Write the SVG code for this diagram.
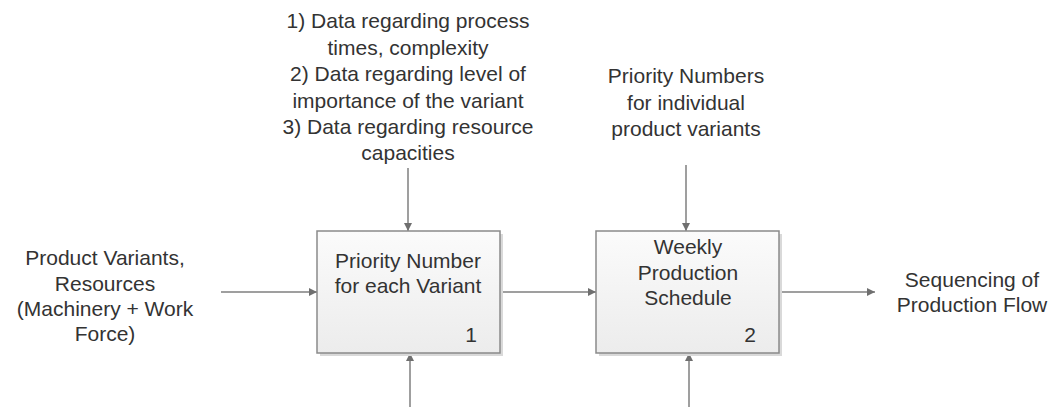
<svg xmlns="http://www.w3.org/2000/svg" width="1050" height="407" viewBox="0 0 1050 407">
  <style>
    text { font-family: "Liberation Sans", Arial, sans-serif; font-size: 21px; fill: #333333; text-anchor: middle; }
    .box { fill: url(#boxFill); stroke: #8a8a8a; stroke-width: 1.5; }
    .shadow { fill: #d9d9d9; }
    .link { stroke: #7f7f7f; stroke-width: 1.5; fill: none; marker-end: url(#arrow); }
  </style>
  <defs>
    <linearGradient id="boxFill" x1="0" y1="0" x2="0" y2="1">
      <stop offset="0" stop-color="#fbfbfb"/>
      <stop offset="1" stop-color="#ececec"/>
    </linearGradient>
    <marker id="arrow" viewBox="0 0 10 10" refX="10" refY="5" markerWidth="8" markerHeight="8" markerUnits="userSpaceOnUse" orient="auto">
      <path d="M0,0 L10,5 L0,10 Z" fill="#6f6f6f"/>
    </marker>
  </defs>

  <g id="connectors">
    <line class="link" x1="408" y1="168" x2="408" y2="231"/>
    <line class="link" x1="686" y1="165" x2="686" y2="231"/>
    <line class="link" x1="221" y1="292" x2="317" y2="292"/>
    <line class="link" x1="500" y1="292" x2="596" y2="292"/>
    <line class="link" x1="779" y1="292" x2="875" y2="292"/>
    <line class="link" x1="410" y1="407" x2="410" y2="353"/>
    <line class="link" x1="689" y1="407" x2="689" y2="353"/>
  </g>

  <g id="node-priority-number">
    <rect class="shadow" x="320" y="234" width="183" height="122"/>
    <rect class="box" x="317" y="231" width="183" height="122"/>
    <text x="408" y="268">Priority Number</text>
    <text x="408" y="293">for each Variant</text>
    <text x="471" y="342">1</text>
  </g>

  <g id="node-weekly-schedule">
    <rect class="shadow" x="599" y="234" width="183" height="122"/>
    <rect class="box" x="596" y="231" width="183" height="122"/>
    <text x="688" y="254">Weekly</text>
    <text x="688" y="280">Production</text>
    <text x="688" y="305">Schedule</text>
    <text x="750" y="342">2</text>
  </g>

  <g id="label-control-data">
    <text x="408" y="28">1) Data regarding process</text>
    <text x="408" y="55">times, complexity</text>
    <text x="408" y="81">2) Data regarding level of</text>
    <text x="408" y="108">importance of the variant</text>
    <text x="408" y="134">3) Data regarding resource</text>
    <text x="408" y="160">capacities</text>
  </g>

  <g id="label-priority-numbers">
    <text x="686" y="83">Priority Numbers</text>
    <text x="686" y="110">for individual</text>
    <text x="686" y="136">product variants</text>
  </g>

  <g id="label-inputs">
    <text x="105" y="265">Product Variants,</text>
    <text x="105" y="291">Resources</text>
    <text x="105" y="316">(Machinery + Work</text>
    <text x="105" y="341">Force)</text>
  </g>

  <g id="label-output">
    <text x="972" y="287">Sequencing of</text>
    <text x="972" y="312">Production Flow</text>
  </g>
</svg>
